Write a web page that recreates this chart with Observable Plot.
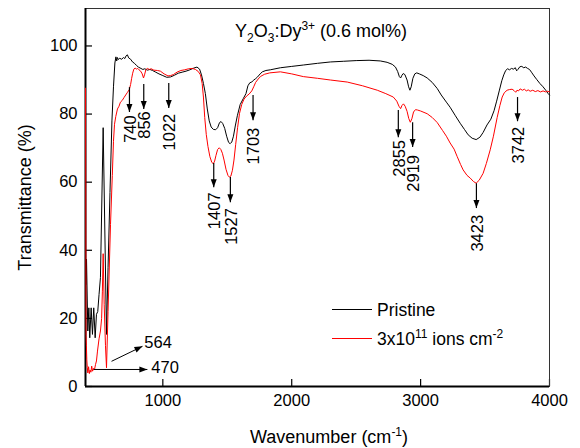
<!DOCTYPE html>
<html><head><meta charset="utf-8">
<script src="https://cdn.jsdelivr.net/npm/d3@7"></script>
<script src="https://cdn.jsdelivr.net/npm/@observablehq/plot@0.6"></script>
<style>
body{margin:0;background:#fff;font-family:Arial,"Liberation Sans",sans-serif;}
#wrap{position:relative;width:580px;height:448px;}
.ov{position:absolute;font-size:18px;color:#000;white-space:nowrap;line-height:1;}
.lgt{font-size:17.5px;}
.sb{font-size:12px;position:relative;top:5px;}
.sp{font-size:12px;position:relative;top:-7px;}
.lg{position:absolute;width:40px;height:0;border-top:1px solid #000;}
</style></head><body><div id="wrap"></div>
<script>
// Pristine sample: [wavenumber (cm-1), transmittance (%)]
const pristine = [[404,30],[408,37.4],[418,16.3],[426,23.1],[433,14.3],[444,23.1],[454,15.3],[464,23.1],[475,14.3],[485,21.2],[495,22],[505,27],[516,32],[537,76],[563,15.3],[575,35],[590,57],[605,78],[617,88],[628,95],[636,96.8],[642,95.6],[648,96.6],[655,96],[665,96.4],[680,96.1],[695,96.6],[705,96.3],[715,97.1],[725,97.4],[735,96.5],[750,96.1],[765,95.3],[780,94.9],[795,94.3],[810,93.8],[830,93.4],[845,93.1],[860,93.3],[880,92.9],[900,93.1],[920,92.8],[945,92.3],[970,91.8],[1000,91.3],[1030,90.8],[1060,90.9],[1090,91.4],[1120,92],[1150,92.3],[1180,92.6],[1210,93],[1240,93.5],[1265,93.8],[1285,93.2],[1300,91.5],[1315,89],[1330,86],[1345,81.5],[1360,78],[1375,76.2],[1392,75.5],[1410,75.4],[1425,76],[1440,77.5],[1452,77.8],[1465,77.2],[1480,75.8],[1495,73.5],[1510,71.7],[1522,71.3],[1535,71.8],[1548,73.5],[1562,76.5],[1578,79.5],[1600,82.8],[1625,84.6],[1645,86],[1660,88.3],[1675,89.2],[1690,89.4],[1702,89.9],[1720,90.4],[1735,90.9],[1755,91.8],[1772,92.4],[1800,92.8],[1834,93],[1912,93.6],[2000,94],[2090,94.4],[2200,94.9],[2300,95.3],[2400,95.5],[2500,95.7],[2600,95.8],[2687,95.6],[2740,95.2],[2780,94.6],[2805,93.8],[2822,92.5],[2835,91],[2845,90.6],[2855,91.4],[2865,91.9],[2878,91.6],[2895,90],[2907,88],[2917,87],[2927,88],[2940,90.5],[2955,91.8],[2970,92.1],[2990,91.8],[3020,91.3],[3051,90.6],[3090,89.3],[3129,87.5],[3160,85.6],[3200,83.5],[3229,82],[3270,79.5],[3307,77.3],[3340,75.5],[3369,73.9],[3400,72.9],[3431,72.5],[3460,73.2],[3485,74.6],[3515,76.8],[3545,78.5],[3570,81],[3590,83.8],[3610,86.8],[3630,89.8],[3645,91.5],[3660,92.8],[3675,93.3],[3690,93],[3705,93.4],[3720,93.2],[3735,93.6],[3745,92.7],[3755,93.1],[3770,93.9],[3785,94],[3800,93.6],[3815,93.8],[3830,93.4],[3845,93.1],[3860,92.3],[3880,91.2],[3900,90.2],[3925,89],[3950,88],[3975,86.8],[3990,86],[4000,85.6]];

// Irradiated sample (3x10^11 ions cm^-2)
const irradiated = [[400,87.6],[402,60],[404,15],[407,12],[410,8],[414,5.5],[418,4],[424,5.8],[430,3.8],[436,4.8],[442,4.2],[448,6],[455,4.5],[462,5.3],[470,5],[478,6.5],[485,7.5],[493,10.4],[505,14],[516,16.3],[525,20],[531,28],[537,39],[545,24],[555,12],[563,5.5],[575,22],[594,47.6],[608,62],[617,72],[625,77],[635,79.3],[648,81.5],[660,82.3],[671,83.5],[685,84],[698,84.8],[712,85.6],[726,86.4],[740,87.2],[750,88.7],[758,90.5],[766,92],[775,93.2],[785,93.5],[795,93.2],[805,93.4],[815,93],[828,92.6],[840,91.8],[850,90.6],[858,91.5],[868,93],[880,93.4],[895,93.1],[910,93.3],[930,92.9],[958,92.8],[981,92.6],[1010,91.8],[1040,91.2],[1060,91.3],[1082,91.6],[1110,92.3],[1140,92.8],[1170,93],[1200,93.3],[1230,93.4],[1253,93.1],[1275,92.5],[1292,91.5],[1305,89],[1315,85],[1325,79],[1337,74],[1350,70.5],[1365,67.5],[1380,65.8],[1392,65.4],[1402,66.2],[1412,67.8],[1425,69.6],[1438,70.1],[1450,69.6],[1462,68.5],[1475,66.5],[1490,63.8],[1505,62],[1516,61.5],[1528,61.8],[1540,63.5],[1552,66.5],[1565,71],[1580,76],[1595,80.2],[1612,82.8],[1630,84.4],[1650,85.3],[1670,85.9],[1690,86.8],[1705,88],[1720,89.3],[1740,90.3],[1760,91.1],[1790,91.7],[1830,92.1],[1912,92.4],[2000,91.8],[2090,91],[2200,90.5],[2300,90],[2431,89.4],[2550,88.3],[2664,87],[2730,86],[2788,85],[2815,83.8],[2832,82.3],[2845,81.6],[2855,82.5],[2867,83],[2880,82.3],[2895,80.8],[2908,78.7],[2920,77.6],[2932,78.6],[2945,80.6],[2960,81.3],[2975,81.2],[3000,80.9],[3051,80.1],[3090,79],[3129,77.5],[3170,75.2],[3200,73.5],[3229,71.5],[3260,69.7],[3284,67.5],[3310,65.2],[3330,63.6],[3360,62],[3385,61.2],[3410,60.2],[3431,59.7],[3455,60.6],[3485,62.6],[3510,65.5],[3540,69.5],[3565,73.5],[3594,79],[3615,82.5],[3633,85],[3650,86.3],[3671,87],[3690,87.2],[3710,87.3],[3725,86.9],[3738,86.4],[3748,87],[3760,86.8],[3772,87.4],[3790,87],[3805,87.3],[3820,86.8],[3835,87.1],[3850,86.7],[3870,87],[3890,86.6],[3910,86.9],[3930,86.5],[3950,86.8],[3970,86.5],[3985,86.7],[4000,86.5]];

// Peak annotations (vertical arrows with rotated labels)
const peakLabels = ["740","856","1022","1407","1527","1703","2855","2919","3423","3742"];
const peakArrowX = [741, 852, 1046, 1395, 1524, 1700, 2827, 2938, 3433, 3752];
const peakArrowFrom = [87.9, 88.8, 89.1, 65.6, 61.5, 85.6, 81.2, 77.6, 59.7, 85.0];
const peakArrowTo = [80.6, 81.5, 81.8, 58.5, 54.1, 78.2, 73.2, 70.3, 52.4, 77.9];
const peakLabelY = [75.6, 76.8, 74.7, 51.6, 47.0, 70.6, 67.0, 62.6, 45.0, 70.9];

// Low-wavenumber annotations (horizontal labels)
const lowLabels = ["564", "470"];
const lowArrowX1 = [602, 462];
const lowArrowY1 = [7.4, 5.0];
const lowArrowX2 = [842, 880];
const lowArrowY2 = [11.8, 5.0];
const lowLabelX = [856, 911];
const lowLabelY = [12.9, 5.6];

const xTicks = [1000, 2000, 3000, 4000];
const yTicks = [0, 20, 40, 60, 80, 100];

const peaks = peakLabels.map((t, i) => ({t, x: peakArrowX[i], y1: peakArrowFrom[i], y2: peakArrowTo[i], ly: peakLabelY[i]}));
const lows = lowLabels.map((t, i) => ({t, x1: lowArrowX1[i], y1: lowArrowY1[i], x2: lowArrowX2[i], y2: lowArrowY2[i], lx: lowLabelX[i], ly: lowLabelY[i]}));

function head(color) {
  const ns = "http://www.w3.org/2000/svg";
  const m = document.createElementNS(ns, "marker");
  m.setAttribute("viewBox", "-9 -4 10 8");
  m.setAttribute("markerWidth", "10");
  m.setAttribute("markerHeight", "8");
  m.setAttribute("markerUnits", "userSpaceOnUse");
  m.setAttribute("orient", "auto");
  const p = document.createElementNS(ns, "path");
  p.setAttribute("d", "M-8,-3L0,0L-8,3Z");
  p.setAttribute("fill", color === "currentColor" ? "#000" : color);
  p.setAttribute("stroke", "none");
  m.appendChild(p);
  return m;
}

const chart = Plot.plot({
  width: 580, height: 448,
  marginLeft: 85, marginRight: 31, marginTop: 8, marginBottom: 62,
  style: {fontFamily: 'Arial, "Liberation Sans", sans-serif', fontSize: "16.5px", color: "#000", background: "#fff"},
  x: {domain: [400, 4000]},
  y: {domain: [0, 111]},
  marks: [
    Plot.axisX({ticks: xTicks, tickFormat: d => String(d), tickSize: -7, tickPadding: 15, label: null, strokeWidth: 1.2}),
    Plot.axisY({ticks: yTicks, tickFormat: d => String(d), tickSize: -7, tickPadding: 15, label: null, strokeWidth: 1.2}),
    Plot.axisY({ticks: [], label: "Transmittance (%)", labelAnchor: "center", labelOffset: 67, labelArrow: "none", fontSize: 18}),
    Plot.frame({stroke: "#333", strokeWidth: 1}),
    Plot.ruleX([400], {strokeWidth: 2}),
    Plot.ruleY([0], {strokeWidth: 2}),
    Plot.line(pristine, {x: d => d[0], y: d => d[1], stroke: "#000", strokeWidth: 1}),
    Plot.line(irradiated, {x: d => d[0], y: d => d[1], stroke: "#ff0000", strokeWidth: 1}),
    Plot.link(peaks, {x1: "x", y1: "y1", x2: "x", y2: "y2", stroke: "#000", strokeWidth: 1.2, markerEnd: head}),
    Plot.text(peaks, {x: "x", y: "ly", text: "t", rotate: -90, dx: 1, textAnchor: "middle", lineAnchor: "middle", fontSize: 16.5, fill: "#000"}),
    Plot.link(lows, {x1: "x1", y1: "y1", x2: "x2", y2: "y2", stroke: "#000", strokeWidth: 1, markerEnd: head}),
    Plot.text(lows, {x: "lx", y: "ly", text: "t", textAnchor: "start", lineAnchor: "middle", fontSize: 16.5, fill: "#000"})
  ]
});

const wrap = document.getElementById("wrap");
wrap.appendChild(chart);
wrap.insertAdjacentHTML("beforeend", `
<div class="ov" style="left:235px;top:22px;">Y<span class="sb">2</span>O<span class="sb">3</span>:Dy<span class="sp">3+</span> (0.6 mol%)</div>
<div class="lg" style="left:332px;top:309px;border-color:#000;"></div>
<div class="ov lgt" style="left:377px;top:302px;">Pristine</div>
<div class="lg" style="left:332px;top:338px;border-color:#ff0000;"></div>
<div class="ov lgt" style="left:377px;top:331px;">3x10<span class="sp">11</span> ions cm<span class="sp">-2</span></div>
<div class="ov" style="left:250px;top:428px;">Wavenumber (cm<span class="sp">-1</span>)</div>
`);
</script></body></html>
